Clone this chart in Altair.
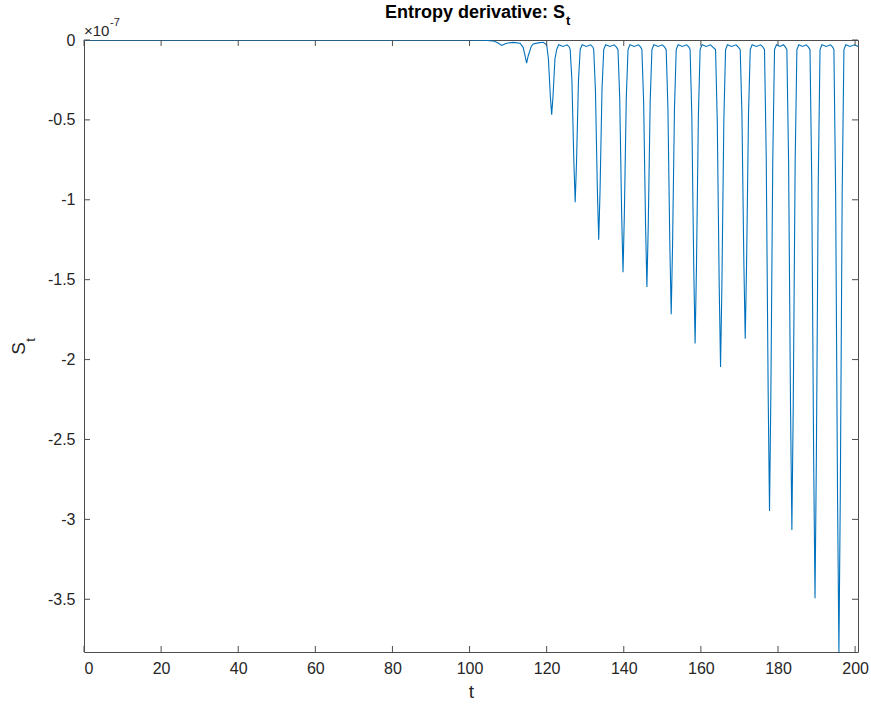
import altair as alt
import pandas as pd

# time samples and entropy derivative S_t (in units of 1e-7)
t_vals = [
    0, 20, 40, 60, 80, 100, 104.0, 106.5, 107.5, 108.3, 109.0, 109.6, 111.3, 113.1,
    113.9, 114.4, 114.8, 115.2, 115.5, 116.0, 116.5, 117.8, 119.1,
    120.0, 120.45, 120.95, 121.3, 121.65, 122.15, 122.6, 123.1, 124.2, 125.3, 125.9,
    126.1, 126.55, 127.05, 127.4, 127.75, 128.25, 128.7, 129.2, 130.3, 131.4, 132.0,
    132.2, 132.65, 133.15, 133.5, 133.85, 134.35, 134.8, 135.3, 136.4, 137.5, 138.1,
    138.5, 138.95, 139.45, 139.8, 140.15, 140.65, 141.1, 141.6, 142.7, 143.8, 144.4,
    144.7, 145.15, 145.65, 146.0, 146.35, 146.85, 147.3, 147.8, 148.9, 150.0, 150.6,
    151.0, 151.45, 151.95, 152.3, 152.65, 153.15, 153.6, 154.1, 155.2, 156.3, 156.9,
    157.2, 157.65, 158.15, 158.5, 158.85, 159.35, 159.8, 160.3, 161.4, 162.5, 163.1,
    163.8, 164.25, 164.75, 165.1, 165.45, 165.95, 166.4, 166.9, 168.0, 169.1, 169.7,
    170.2, 170.65, 171.15, 171.5, 171.85, 172.35, 172.8, 173.3, 174.4, 175.5, 176.1,
    176.5, 176.95, 177.45, 177.8, 178.15, 178.65, 179.1, 179.6, 180.5, 181.4, 181.95,
    182.3, 182.75, 183.25, 183.6, 183.95, 184.45, 184.9, 185.4, 186.4, 187.3, 187.9,
    188.3, 188.75, 189.25, 189.6, 189.95, 190.45, 190.9, 191.4, 192.5, 193.6, 194.2,
    194.5, 194.95, 195.45, 195.8, 196.15, 196.65, 197.1, 197.6, 198.7, 199.8, 200.75,
]
s_vals = [
    0, 0, 0, 0, 0, 0, -0.002, -0.008, -0.02, -0.034, -0.026, -0.02, -0.015, -0.02,
    -0.046, -0.10, -0.144, -0.10, -0.078, -0.04, -0.025, -0.018, -0.014,
    -0.03, -0.117, -0.35, -0.467, -0.35, -0.117, -0.06, -0.03, -0.04, -0.03, -0.045,
    -0.06, -0.254, -0.761, -1.015, -0.761, -0.254, -0.06, -0.03, -0.04, -0.03, -0.045,
    -0.06, -0.313, -0.938, -1.25, -0.938, -0.313, -0.06, -0.03, -0.04, -0.03, -0.045,
    -0.06, -0.364, -1.091, -1.454, -1.091, -0.364, -0.06, -0.03, -0.04, -0.03, -0.045,
    -0.06, -0.387, -1.16, -1.546, -1.16, -0.387, -0.06, -0.03, -0.04, -0.03, -0.045,
    -0.06, -0.429, -1.288, -1.717, -1.288, -0.429, -0.06, -0.03, -0.04, -0.03, -0.045,
    -0.06, -0.475, -1.425, -1.9, -1.425, -0.475, -0.06, -0.03, -0.04, -0.03, -0.045,
    -0.06, -0.512, -1.535, -2.046, -1.535, -0.512, -0.06, -0.03, -0.04, -0.03, -0.045,
    -0.06, -0.467, -1.402, -1.869, -1.402, -0.467, -0.06, -0.03, -0.04, -0.03, -0.045,
    -0.06, -0.737, -2.211, -2.948, -2.211, -0.737, -0.06, -0.03, -0.04, -0.03, -0.045,
    -0.06, -0.767, -2.3, -3.067, -2.3, -0.767, -0.06, -0.03, -0.04, -0.03, -0.045,
    -0.06, -0.874, -2.621, -3.494, -2.621, -0.874, -0.06, -0.03, -0.04, -0.03, -0.045,
    -0.06, -0.958, -2.873, -3.83, -2.873, -0.958, -0.06, -0.03, -0.04, -0.03, -0.04,
]
x_ticks = [0, 20, 40, 60, 80, 100, 120, 140, 160, 180, 200]
y_ticks = [0, -0.5, -1, -1.5, -2, -2.5, -3, -3.5]
x_domain = [0, 200.75]
y_domain = [-3.83, 0]

title_main = ["Entropy derivative: S"]
title_sub = ["t"]
ylab_main = ["S"]
ylab_sub = ["t"]
exp_base = ["×10"]
exp_pow = ["-7"]

W, H = 774, 612
FONT = "Liberation Sans"
AX = "#4d4d4d"
TXT = "#262626"

df = pd.DataFrame({"t": t_vals, "s": s_vals})
xs = alt.Scale(domain=x_domain, nice=False, zero=False)
ys = alt.Scale(domain=y_domain, nice=False, zero=False)

line = alt.Chart(df).mark_line(color="#0072BD", strokeWidth=1.1, clip=True).encode(
    x=alt.X("t:Q", scale=xs, title="t",
            axis=alt.Axis(values=x_ticks, ticks=False, domain=False, grid=False,
                          labelExpr="'' + datum.value", labelFontSize=16, labelPadding=8,
                          labelColor=TXT, labelFont=FONT, titleFont=FONT,
                          titleFontSize=19, titleFontWeight="normal", titleColor=TXT,
                          titlePadding=6)),
    y=alt.Y("s:Q", scale=ys, title=None,
            axis=alt.Axis(values=y_ticks, ticks=False, domain=False, grid=False,
                          labelExpr="'' + datum.value", labelFontSize=16, labelPadding=9,
                          labelColor=TXT, labelFont=FONT)),
)

xt = pd.DataFrame({"t": x_ticks})
yt = pd.DataFrame({"s": y_ticks})
tick_len = 6
xb = alt.Chart(xt).mark_rule(color=AX, strokeWidth=1).encode(
    x=alt.X("t:Q", scale=xs), y=alt.value(H), y2=alt.value(H - tick_len))
xtop = alt.Chart(xt).mark_rule(color=AX, strokeWidth=1).encode(
    x=alt.X("t:Q", scale=xs), y=alt.value(0), y2=alt.value(tick_len))
yl = alt.Chart(yt).mark_rule(color=AX, strokeWidth=1).encode(
    y=alt.Y("s:Q", scale=ys), x=alt.value(0), x2=alt.value(tick_len))
yr = alt.Chart(yt).mark_rule(color=AX, strokeWidth=1).encode(
    y=alt.Y("s:Q", scale=ys), x=alt.value(W), x2=alt.value(W - tick_len))

def txt(vals, x, y, size, weight="normal", angle=0, align="left", baseline="alphabetic"):
    kw = dict(font=FONT, fontSize=size, fontWeight=weight, color="#000000" if weight == "bold" else TXT,
              align=align, baseline=baseline)
    if angle:
        kw["angle"] = angle
    return alt.Chart(pd.DataFrame({"label": vals})).mark_text(**kw).encode(
        x=alt.value(x), y=alt.value(y), text="label:N")

t1 = txt(title_main, 391, -22, 18, "bold", align="center")
t2 = txt(title_sub, 482, -15, 13, "bold")
yl1 = txt(ylab_main, -65.5, 308.5, 19, angle=270, align="center", baseline="middle")
yl2 = txt(ylab_sub, -53, 300, 13, angle=270, align="center", baseline="middle")
e1 = txt(exp_base, 0, -4.5, 15)
e2 = txt(exp_pow, 26, -14, 11)

chart = alt.layer(line, xb, xtop, yl, yr, t1, t2, yl1, yl2, e1, e2).properties(
    width=W, height=H,
    autosize=alt.AutoSizeParams(type="none"),
    padding={"left": 84, "top": 40, "right": 13, "bottom": 55},
    background="white",
).configure_view(stroke=AX, strokeWidth=1)

chart.save("out.html", embed_options={"renderer": "svg", "actions": False})
